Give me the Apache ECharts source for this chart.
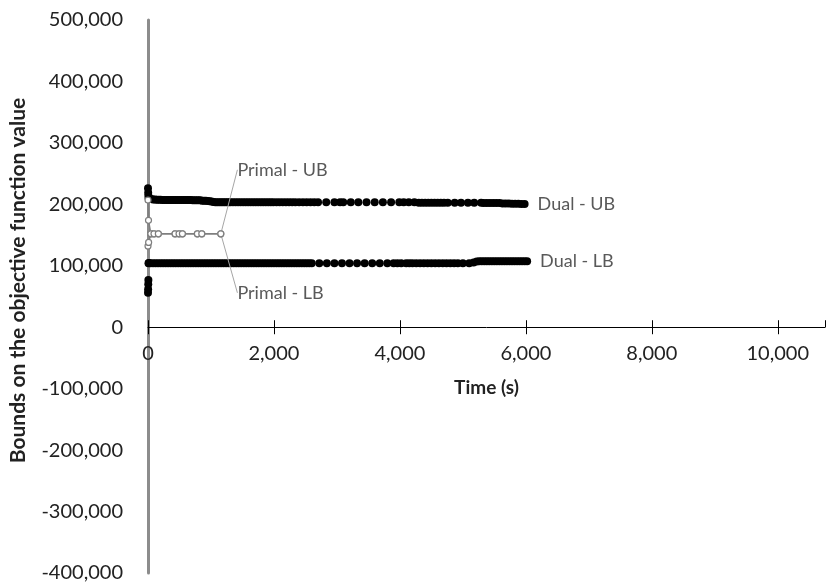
<!DOCTYPE html>
<html>
<head>
<meta charset="utf-8">
<script src="https://cdn.jsdelivr.net/npm/echarts@6/dist/echarts.min.js"></script>
<style>html,body{margin:0;padding:0;background:#fff}#c{width:827px;height:587px}</style>
</head>
<body>
<div id="c"></div>
<script>
// ---- data (time in s, objective bound) ----
const dualUB = [
  [0,226000],[3,219000],[6,214000],[10,210000],[25,209000],[50,208500],[80,208000],[110,208000],
  [140,207500],[170,207500],[200,207500],[230,207000],[260,207000],[290,207000],[320,207000],
  [350,207000],[380,207000],[410,207000],[440,207000],[470,207000],[500,207000],[530,207000],
  [560,207000],[590,207000],[620,207000],[650,207000],[680,207000],[710,206500],[740,206500],
  [770,206500],[800,206500],[830,206500],[860,206000],[890,206000],[920,206000],[950,205500],
  [980,205000],[1010,204500],[1040,204000],[1070,203500],[1100,203500],[1130,203500],[1160,203500],
  [1190,203500],[1220,203500],[1250,203500],[1280,203500],[1310,203500],[1350,203500],[1390,203500],
  [1430,203500],[1470,203500],[1510,203500],[1550,203500],[1590,203500],[1630,203500],[1670,203500],
  [1710,203500],[1750,203500],[1790,203500],[1830,203500],[1870,203500],[1910,203500],[1950,203500],
  [1990,203500],[2040,203500],[2090,203500],[2140,203500],[2190,203500],[2240,203500],[2290,203500],
  [2340,203500],[2400,203500],[2460,203500],[2520,203500],[2580,203500],[2640,203500],[2700,203500],
  [2830,203500],[2960,203500],[3050,203500],[3100,203500],[3220,203500],[3340,203500],[3470,203500],
  [3600,203500],[3730,203500],[3860,203500],[3990,203500],[4060,203500],[4140,203500],[4230,203500],
  [4300,202500],[4350,202500],[4400,202500],[4450,202500],[4500,202500],[4550,202500],[4600,202500],
  [4650,202500],[4700,202500],[4760,202500],[4870,202500],[4970,202500],[5080,202500],[5180,202500],
  [5290,202500],[5330,202000],[5380,202000],[5430,202000],[5480,202000],[5530,202000],[5580,202000],
  [5630,201500],[5680,201500],[5730,201500],[5780,201000],[5830,201000],[5880,201000],[5930,200500],
  [5980,200500]
];
const dualLB = [
  [0,56000],[2,62000],[4,70000],[6,77000],[8,104000],[14,104500],[40,104000],[80,104000],
  [120,104000],[160,104000],[200,104000],[240,104000],[280,104000],[320,104000],[360,104000],
  [400,104000],[440,104000],[480,104000],[520,104000],[560,104000],[600,104000],[640,104000],
  [680,104000],[720,104000],[760,104000],[800,104000],[840,104000],[880,104000],[920,104000],
  [960,104000],[1000,104000],[1040,104000],[1080,104000],[1120,104000],[1160,104000],[1200,104000],
  [1240,104000],[1280,104000],[1320,104000],[1360,104000],[1400,104000],[1440,104000],[1480,104000],
  [1520,104000],[1560,104000],[1600,104000],[1640,104000],[1680,104000],[1720,104000],[1760,104000],
  [1800,104000],[1840,104000],[1880,104000],[1920,104000],[1960,104000],[2000,104000],[2040,104000],
  [2080,104000],[2120,104000],[2160,104000],[2200,104000],[2240,104000],[2280,104000],[2320,104000],
  [2360,104000],[2400,104000],[2440,104000],[2480,104000],[2520,104000],[2560,104000],[2600,104000],
  [2720,104000],[2840,104000],[2960,104000],[3080,104000],[3200,104000],[3320,104000],[3440,104000],
  [3560,104000],[3680,104000],[3800,104000],[3900,104000],[3960,104000],[4020,104000],[4100,104000],
  [4150,104000],[4200,104000],[4260,104000],[4320,104000],[4380,104000],[4440,104000],[4500,104000],
  [4560,104000],[4620,104000],[4680,104000],[4740,104000],[4800,104000],[4860,104000],[4920,104000],
  [5000,104000],[5100,104000],[5170,105500],[5220,107000],[5260,107500],[5300,107500],[5340,107500],
  [5380,107500],[5420,107500],[5460,107500],[5500,107500],[5540,107500],[5580,107500],[5620,107500],
  [5660,107500],[5700,107500],[5740,107500],[5780,107500],[5820,107500],[5860,107500],[5900,107500],
  [5940,107500],[5980,107500],[6020,107500]
];
const primalUB = [
  [0,207000],[8,174000],[45,152000],[95,152000],[164,152000],[430,152000],[493,152000],
  [546,152000],[784,152000],[854,152000],[1156,152000]
];
const primalLB = [
  [0,132000],[10,138000],[45,152000],[95,152000],[164,152000],[430,152000],[493,152000],
  [546,152000],[784,152000],[854,152000],[1156,152000]
];
const seriesNames = ['Dual - UB', 'Dual - LB', 'Primal - UB', 'Primal - LB'];
const yTicks = { min: -400000, max: 500000, step: 100000 };
const xTicks = { min: 0, max: 10750, step: 2000 };

const FONT = 'Lato';
const fmt = v => Math.round(v).toLocaleString('en-US');

// layout (pixels)
const G = { left: 148, right: 2, top: 20, bottom: 14 };
const plotH = 587 - G.top - G.bottom;
// distance from grid bottom / top to the y = 0 line, derived from the y scale
const zeroFromBottom = plotH * (0 - yTicks.min) / (yTicks.max - yTicks.min);
const zeroFromTop = plotH - zeroFromBottom;

function withEndLabel(arr, labelOpt) {
  return arr.map((p, i) => i === arr.length - 1 ? { value: p, label: labelOpt } : p);
}

const dualLabel = { show: true, position: 'right', distance: 9, formatter: '{a}',
  color: '#595959', fontFamily: FONT, fontSize: 18 };
const primalLabel = { show: true, position: 'right', distance: 5, formatter: '{a}',
  color: '#595959', fontFamily: FONT, fontSize: 18 };

const chart = echarts.init(document.getElementById('c'), null, { renderer: 'canvas' });
chart.setOption({
  animation: false,
  backgroundColor: '#fff',
  grid: { left: G.left, right: G.right, top: G.top, bottom: G.bottom, outerBoundsMode: 'none' },
  xAxis: [{
    type: 'value', min: xTicks.min, max: xTicks.max, interval: xTicks.step, position: 'bottom',
    offset: -zeroFromBottom,
    name: 'Time (s)', nameLocation: 'middle', nameGap: 51,
    nameTextStyle: { fontFamily: FONT, fontWeight: 'bold', fontSize: 19, color: '#222' },
    axisLine: { show: true, onZero: false, lineStyle: { color: '#000', width: 1 } },
    axisTick: { show: true, inside: false, length: 7, lineStyle: { color: '#000' } },
    axisLabel: { show: true, fontFamily: FONT, fontSize: 20, color: '#222', margin: 16,
      showMaxLabel: false, formatter: fmt },
    splitLine: { show: false }
  }, {
    type: 'value', min: xTicks.min, max: xTicks.max, interval: xTicks.step, position: 'top',
    offset: -zeroFromTop,
    axisLine: { show: false, onZero: false },
    axisTick: { show: true, inside: false, length: 7, lineStyle: { color: '#000' } },
    axisLabel: { show: false },
    splitLine: { show: false }
  }],
  yAxis: {
    type: 'value', min: yTicks.min, max: yTicks.max, interval: yTicks.step, position: 'left',
    name: 'Bounds on the objective function value', nameLocation: 'middle', nameGap: 119,
    nameTextStyle: { fontFamily: FONT, fontWeight: 'bold', fontSize: 21, color: '#222', padding: [0, 0, 0, 32] },
    axisLine: { show: true, onZero: false, lineStyle: { color: '#8c8c8c', width: 3 } },
    axisTick: { show: false },
    axisLabel: { fontFamily: FONT, fontSize: 20, color: '#222', margin: 25, formatter: fmt },
    splitLine: { show: false }
  },
  series: [
    {
      name: seriesNames[0], type: 'scatter', data: withEndLabel(dualUB, dualLabel),
      symbol: 'circle', symbolSize: 8, itemStyle: { color: '#000', opacity: 1 }, z: 3
    },
    {
      name: seriesNames[1], type: 'scatter', data: withEndLabel(dualLB, dualLabel),
      symbol: 'circle', symbolSize: 8, itemStyle: { color: '#000', opacity: 1 }, z: 3
    },
    {
      name: seriesNames[2], type: 'line', data: withEndLabel(primalUB, primalLabel),
      symbol: 'circle', symbolSize: 6, showAllSymbol: true,
      lineStyle: { color: '#7f7f7f', width: 1.5 },
      itemStyle: { color: '#fff', borderColor: '#7f7f7f', borderWidth: 1.2 },
      labelLayout: { dx: 8, dy: -64 },
      labelLine: { show: true, lineStyle: { color: '#a6a6a6', width: 1 } }, z: 4
    },
    {
      name: seriesNames[3], type: 'line', data: withEndLabel(primalLB, primalLabel),
      symbol: 'circle', symbolSize: 6, showAllSymbol: true,
      lineStyle: { color: '#7f7f7f', width: 1.5 },
      itemStyle: { color: '#fff', borderColor: '#7f7f7f', borderWidth: 1.2 },
      labelLayout: { dx: 8, dy: 59 },
      labelLine: { show: true, lineStyle: { color: '#a6a6a6', width: 1 } }, z: 4
    }
  ]
});
</script>
</body>
</html>
